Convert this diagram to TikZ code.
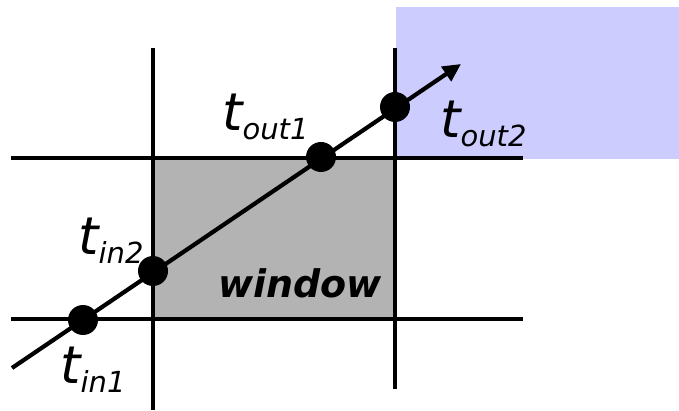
\documentclass[tikz,border=0pt]{standalone}
\usepackage{fontspec}
\setmainfont{DejaVu Sans}
\usetikzlibrary{arrows.meta}
\definecolor{winfill}{HTML}{B3B3B3}
\definecolor{bluefill}{HTML}{CCCCFF}
\tikzset{
  thick line/.style={line width=4.2pt, black},
  dotnode/.style={circle, fill=black, inner sep=0pt, minimum size=30pt},
  tlabel/.style={anchor=base west, inner sep=0pt, font=\itshape},
}
\newcommand{\tsub}[2]{{\fontsize{52}{52}\selectfont t}\raisebox{-9pt}{\fontsize{29}{29}\selectfont #1#2}}
\begin{document}
\begin{tikzpicture}[x=1pt,y=-1pt]
\useasboundingbox (0,0) rectangle (679,411);
% regions
\fill[bluefill] (396,7) rectangle (679,159);
\fill[winfill] (153,158) rectangle (395,319);
% grid lines
\coordinate (h1l) at (11,158); \coordinate (h1r) at (523,158);
\coordinate (h2l) at (11,319); \coordinate (h2r) at (523,319);
\coordinate (v1t) at (153,48); \coordinate (v1b) at (153,410);
\coordinate (v2t) at (395,48); \coordinate (v2b) at (395,389);
\draw[thick line] (h1l) -- (h1r);
\draw[thick line] (h2l) -- (h2r);
\draw[thick line] (v1t) -- (v1b);
\draw[thick line] (v2t) -- (v2b);
% ray
\coordinate (rs) at (12,368);
\coordinate (re) at (461,64);
\draw[thick line, -{Triangle[length=18pt,width=17pt]}] (rs) -- (re);
% intersection dots
\node[dotnode] (tin1) at (83,320) {};
\node[dotnode] (tin2) at (153,271) {};
\node[dotnode] (tout1) at (321,157) {};
\node[dotnode] (tout2) at (395,107) {};
% labels
\node[tlabel] (ltout1) at (222,131) {\tsub{out}{1}};
\node[tlabel] (ltout2) at (440,138) {\tsub{out}{2}};
\node[tlabel] (ltin2) at (78,255) {\tsub{in}{2}};
\node[tlabel] (ltin1) at (60,383) {\tsub{in}{1}};
\node[anchor=base west, inner sep=0pt, font=\bfseries\itshape\fontsize{38}{38}\selectfont] (win) at (218,297) {window};
\end{tikzpicture}
\end{document}
